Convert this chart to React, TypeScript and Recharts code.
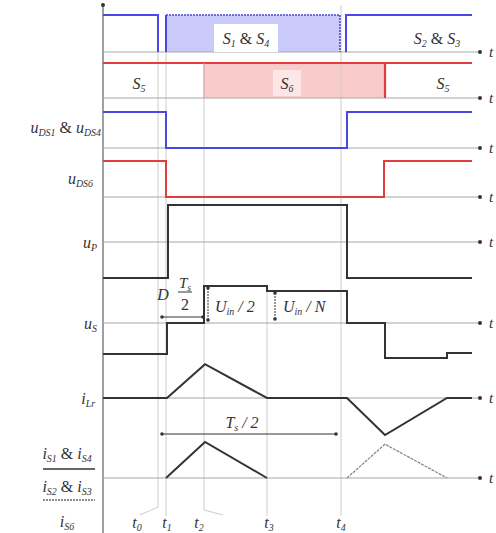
import React from 'react';
import {
    ComposedChart,
    Line,
    XAxis,
    YAxis,
    ReferenceLine,
    ReferenceArea,
    ReferenceDot
} from 'recharts';

const FONT = "'Liberation Serif', 'Times New Roman', Times, serif";
const BLUE = '#4848e2';
const BLUE_FILL = '#cacafa';
const RED = '#e23c3c';
const RED_FILL = '#f9cccc';
const INK = '#333333';
const GRID = '#cccccc';
const AXIS = '#a8a8a8';

// time instants (t axis, arbitrary units)
const eventNames = ['0', '1', '2', '3', '4'];
const eventTimes = [5.5, 6.3, 10.1, 16.4, 23.8];
const eventLabelAt = [3.4, 6.4, 9.6, 16.6, 23.8];
const tEnd = 36.9;
const tArrow = 37.7;

type Pt = [number, number | null];

// S2&S3 gate (solid) and S1&S4 gate (dotted top), levels 0 / 1
const gateS23: Pt[] = [[0, 1], [5.5, 1], [5.5, 0], [5.9, null], [6.3, 0], [6.3, 1], [15, null], [24.3, 0], [24.3, 1], [tEnd, 1]];
const gateS14: Pt[] = [[6.3, 1], [23.7, 1], [23.7, 0]];
const s14On = [6.3, 23.7];
// S5 / S6 gate
const gateS56: Pt[] = [[0, 1], [tEnd, 1]];
const s6On = [10.1, 28.2];
// drain-source voltages
const uDS14: Pt[] = [[0, 1], [6.3, 1], [6.3, 0], [24.4, 0], [24.4, 1], [tEnd, 1]];
const uDS6: Pt[] = [[0, 1], [6.3, 1], [6.3, 0], [28.1, 0], [28.1, 1], [tEnd, 1]];
// primary voltage
const uP: Pt[] = [[0, -1], [6.5, -1], [6.5, 1.03], [24.4, 1.03], [24.4, -1], [tEnd, -1]];
// secondary voltage
const uS: Pt[] = [[0, -0.86], [6.4, -0.86], [6.4, 0], [10.1, 0], [10.1, 1.03], [16.4, 1.03], [16.4, 0.89], [24.4, 0.89], [24.4, 0], [28.2, 0], [28.2, -0.97], [34.4, -0.97], [34.4, -0.83], [tEnd, -0.83]];
// resonant current
const iLr: Pt[] = [[0, 0], [6.4, 0], [10.2, 0.94], [16.4, 0], [24.4, 0], [28.2, -1.03], [34.4, 0], [tEnd, 0]];
// switch currents
const iS14: Pt[] = [[6.3, 0], [10.2, 1.0], [16.4, 0]];
const iS23: Pt[] = [[24.4, 0], [28.2, 0.94], [34.4, 0]];

// row layout (vertical placement of each trace)
const rows = {
    g14: {base: 481, amp: 37},
    g56: {base: 435, amp: 35},
    ds14: {base: 385, amp: 36},
    ds6: {base: 336, amp: 36},
    uP: {base: 291, amp: 36},
    uS: {base: 210, amp: 36},
    iLr: {base: 135, amp: 36},
    iS: {base: 55, amp: 36},
};
type Row = {base: number; amp: number};

const toData = (pts: Pt[], row: Row) =>
    pts.map(([t, l]) => ({t, v: l === null ? null : row.base + l * row.amp}));

type Part = [string, 'i' | 's' | 'r'];

function RichText({x, y, parts, anchor = 'middle', size = 15, box}: any) {
    let shift = 0;
    return (
        <g>
            {box && (
                <rect x={x - box.w / 2} y={y - box.h / 2} width={box.w} height={box.h}
                      fill="#fff" fillOpacity={box.o ?? 1}/>
            )}
            <text x={x} y={y} textAnchor={anchor} dominantBaseline="central"
                  fontFamily={FONT} fontSize={size} fill={INK}>
                {(parts as Part[]).map(([s, k], i) => {
                    const target = k === 's' ? size * 0.32 : 0;
                    const dy = target - shift;
                    shift = target;
                    return (
                        <tspan key={i} dy={dy} fontSize={k === 's' ? size * 0.62 : size}
                               fontStyle={k === 'r' ? 'normal' : 'italic'}>{s}</tspan>
                    );
                })}
            </text>
        </g>
    );
}

const note = (t: number, v: number, parts: Part[], anchor = 'middle', size = 16, box?: any) => (
    <ReferenceDot key={`${t}-${v}-${parts.map(p => p[0]).join('')}`} x={t} y={v} r={1}
                  ifOverflow="visible"
                  shape={(p: any) => <RichText x={p.cx} y={p.cy} parts={parts} anchor={anchor} size={size} box={box}/>}/>
);

const seg = (x1: number, y1: number, x2: number, y2: number, stroke: string, w = 1, dash?: string, key?: string) => (
    <ReferenceLine key={key ?? `${x1}-${y1}-${x2}-${y2}`} segment={[{x: x1, y: y1}, {x: x2, y: y2}]}
                   stroke={stroke} strokeWidth={w} strokeDasharray={dash} ifOverflow="visible"/>
);

const dot = (t: number, v: number, r = 2) => (
    <ReferenceDot key={`d-${t}-${v}`} x={t} y={v} r={r} fill={INK} stroke="none" ifOverflow="visible"/>
);

const trace = (pts: Pt[], row: Row, stroke: string, w = 2, dash?: string) => (
    <Line data={toData(pts, row)} dataKey="v" type="linear" stroke={stroke} strokeWidth={w}
          strokeDasharray={dash} dot={false} activeDot={false} connectNulls={false}
          isAnimationActive={false}/>
);

export default function App() {
    const rowList = Object.values(rows);
    return (
        <div style={{position: 'absolute', left: 0, top: 0, background: '#fff'}}>
            <ComposedChart width={496} height={533} margin={{top: 0, right: 0, bottom: 0, left: 0}}>
                <XAxis type="number" dataKey="t" domain={[-10.3, 39.3]} allowDataOverflow hide/>
                <YAxis type="number" domain={[0, 533]} allowDataOverflow hide/>

                {/* conduction intervals */}
                <ReferenceArea x1={s14On[0]} x2={s14On[1]} y1={rows.g14.base} y2={rows.g14.base + rows.g14.amp}
                               fill={BLUE_FILL} fillOpacity={1} stroke="none" ifOverflow="visible"/>
                <ReferenceArea x1={s6On[0]} x2={s6On[1]} y1={rows.g56.base} y2={rows.g56.base + rows.g56.amp}
                               fill={RED_FILL} fillOpacity={1} stroke="none" ifOverflow="visible"/>

                {/* time instants */}
                {seg(eventTimes[0], 518, eventTimes[0], 26, GRID, 1, undefined, 'e0')}
                {seg(eventTimes[0], 26, 3.7, 18, GRID, 1, undefined, 'e0b')}
                {seg(eventTimes[1], 518, eventTimes[1], 17, GRID, 1, undefined, 'e1')}
                {seg(eventTimes[2], 470, eventTimes[2], 23, GRID, 1, undefined, 'e2')}
                {seg(eventTimes[2], 23, 12.0, 18, GRID, 1, undefined, 'e2b')}
                {seg(eventTimes[3], 248, eventTimes[3], 17, GRID, 1, undefined, 'e3')}
                {seg(eventTimes[4], 528, eventTimes[4], 17, GRID, 1, undefined, 'e4')}

                {/* axes */}
                {seg(0, 528, 0, 0, '#777', 1.4, undefined, 'yaxis')}
                {dot(0, 528, 2)}
                {rowList.map((r, i) => seg(0, r.base, tArrow, r.base, AXIS, 1.2, undefined, `ax${i}`))}
                {rowList.map(r => dot(tArrow, r.base, 2))}
                {rowList.map(r => note(38.8, r.base, [['t', 'i']], 'middle', 15))}

                {/* traces */}
                {trace(gateS23, rows.g14, BLUE)}
                {trace(gateS14, rows.g14, BLUE, 1.6, '2 1')}
                {trace(gateS56, rows.g56, RED)}
                {seg(s6On[0], rows.g56.base, s6On[0], rows.g56.base + rows.g56.amp, '#e89a9a', 1, undefined, 's6a')}
                {seg(s6On[1], rows.g56.base, s6On[1], rows.g56.base + rows.g56.amp, RED, 2.2, undefined, 's6b')}
                {trace(uDS14, rows.ds14, BLUE)}
                {trace(uDS6, rows.ds6, RED)}
                {trace(uP, rows.uP, INK)}
                {trace(uS, rows.uS, INK)}
                {trace(iLr, rows.iLr, INK)}
                {trace(iS14, rows.iS, INK)}
                {trace(iS23, rows.iS, '#8a8a8a', 1.3, '3 1')}

                {/* gate labels */}
                {note(14.3, 495, [['S', 'i'], ['1', 's'], [' & ', 'r'], ['S', 'i'], ['4', 's']], 'middle', 16, {w: 64, h: 28})}
                {note(33.4, 495, [['S', 'i'], ['2', 's'], [' & ', 'r'], ['S', 'i'], ['3', 's']], 'middle', 16)}
                {note(3.6, 450, [['S', 'i'], ['5', 's']])}
                {note(18.4, 450, [['S', 'i'], ['6', 's']], 'middle', 16, {w: 28, h: 26, o: 0.5})}
                {note(34.0, 450, [['S', 'i'], ['5', 's']])}

                {/* row labels */}
                {note(-0.2, 406, [['u', 'i'], ['DS1', 's'], [' & ', 'r'], ['u', 'i'], ['DS4', 's']], 'end')}
                {note(-1.0, 355, [['u', 'i'], ['DS6', 's']], 'end')}
                {note(-0.6, 291, [['u', 'i'], ['P', 's']], 'end')}
                {note(-0.6, 210, [['u', 'i'], ['S', 's']], 'end')}
                {note(-0.8, 135, [['i', 'i'], ['Lr', 's']], 'end')}
                {note(-3.6, 80, [['i', 'i'], ['S1', 's'], [' & ', 'r'], ['i', 'i'], ['S4', 's']], 'middle')}
                {seg(-6.0, 64, -0.8, 64, INK, 1.6, undefined, 'ul1')}
                {note(-3.6, 47, [['i', 'i'], ['S2', 's'], [' & ', 'r'], ['i', 'i'], ['S3', 's']], 'middle')}
                {seg(-6.0, 33, -0.8, 33, '#666', 1.4, '2 1', 'ul2')}
                {note(-3.6, 12, [['i', 'i'], ['S6', 's']], 'middle')}

                {/* time labels */}
                {eventNames.map((n, i) => note(eventLabelAt[i], 11, [['t', 'i'], [n, 's']], 'middle'))}

                {/* D Ts/2 */}
                {seg(5.9, 216, 10.0, 216, INK, 1, undefined, 'dts')}
                {dot(5.9, 216, 1.8)}
                {dot(10.0, 216, 1.8)}
                {note(6.0, 239, [['D', 'i']])}
                {note(8.2, 250, [['T', 'i'], ['s', 's']], 'middle', 15)}
                {seg(7.5, 241, 8.9, 241, INK, 1, undefined, 'frac')}
                {note(8.2, 229, [['2', 'r']], 'middle', 16)}

                {/* Uin/2 and Uin/N */}
                {seg(10.5, 245, 10.5, 213, INK, 1, '2 1', 'uin2')}
                {dot(10.5, 245, 1.8)}
                {dot(10.5, 213, 1.8)}
                {note(11.2, 227, [['U', 'i'], ['in', 's'], [' / 2', 'i']], 'start')}
                {seg(17.2, 240, 17.2, 214, INK, 1, '2 1', 'uinn')}
                {dot(17.2, 240, 1.8)}
                {dot(17.2, 214, 1.8)}
                {note(18.0, 227, [['U', 'i'], ['in', 's'], [' / N', 'i']], 'start')}

                {/* Ts/2 */}
                {seg(5.9, 99, 23.3, 99, INK, 1, undefined, 'ts2')}
                {dot(5.9, 99, 1.8)}
                {dot(23.3, 99, 1.8)}
                {note(13.9, 111, [['T', 'i'], ['s', 's'], [' / 2', 'i']], 'middle')}
            </ComposedChart>
        </div>
    );
}
